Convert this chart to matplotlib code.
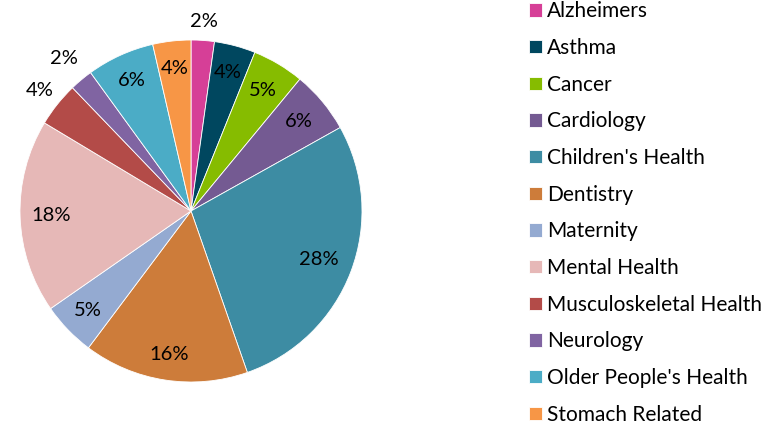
import numpy as np
import matplotlib
matplotlib.use("Agg")
import matplotlib.pyplot as plt

plt.rcParams["font.family"] = ["Lato", "DejaVu Sans"]

categories = [
    "Alzheimers", "Asthma", "Cancer", "Cardiology", "Children's Health",
    "Dentistry", "Maternity", "Mental Health", "Musculoskeletal Health",
    "Neurology", "Older People's Health", "Stomach Related",
]
shares = [2.2, 3.9, 4.9, 5.9, 27.8, 15.6, 5.1, 18.3, 4.2, 2.2, 6.4, 3.6]
colors = [
    "#D63F97", "#00475F", "#86BC00", "#745A92", "#3D8CA3", "#CD7C3A",
    "#94AAD1", "#E6B8B7", "#B34B48", "#8064A2", "#4BACC6", "#F79646",
]
# label distance from centre (fraction of radius); small slices go outside
label_dist = [1.11, 0.84, 0.82, 0.82, 0.80, 0.85, 0.84, 0.82, 1.13, 1.16, 0.84, 0.84]

W, H = 773, 426
fig = plt.figure(figsize=(W / 100, H / 100), dpi=100)
cx, cy, r = 191, 211, 171
ax = fig.add_axes([(cx - r) / W, (H - cy - r) / H, 2 * r / W, 2 * r / H])

total = sum(shares)
wedges, _ = ax.pie(
    shares, colors=colors, startangle=90, counterclock=False,
    wedgeprops=dict(edgecolor="white", linewidth=0.6),
)
ax.set_xlim(-1, 1)
ax.set_ylim(-1, 1)
ax.set_aspect("auto")
ax.axis("off")

for w, v, d in zip(wedges, shares, label_dist):
    mid = np.deg2rad((w.theta1 + w.theta2) / 2)
    ax.text(d * np.cos(mid), d * np.sin(mid), f"{v / total * 100:.0f}%",
            ha="center", va="center", fontsize=14.5, color="black")

fig.legend(
    wedges, categories, loc="upper left", bbox_to_anchor=(521 / W, 1 + 7 / H),
    frameon=False, fontsize=15, handlelength=0.63, handleheight=0.63,
    handletextpad=0.22, labelspacing=0.80, borderaxespad=0,
)

fig.savefig("out.png", dpi=100)
